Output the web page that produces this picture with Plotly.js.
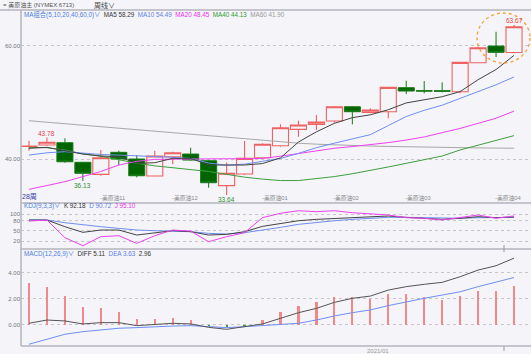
<!DOCTYPE html>
<html><head><meta charset="utf-8">
<script src="https://cdn.plot.ly/plotly-3.0.1.min.js"></script>
<style>html,body{margin:0;padding:0;background:#f4f4f9;}#chart{width:531px;height:354px;}</style>
</head><body><div id="chart"></div>
<script>
const weeks = [1,2,3,4,5,6,7,8,9,10,11,12,13,14,15,16,17,18,19,20,21,22,23,24,25,26,27,28];
const open  = [42.22,42.47,42.88,39.42,37.30,41.18,40.00,37.00,40.40,40.88,39.70,35.30,37.35,40.23,42.35,45.24,46.12,46.70,49.23,48.24,48.35,52.59,52.05,52.05,51.88,57.00,59.94,58.80];
const high  = [43.23,43.78,43.65,39.50,41.60,41.47,40.70,41.46,41.30,42.00,39.82,39.40,43.18,42.77,46.12,46.76,47.76,49.35,49.35,48.94,52.65,53.82,53.76,53.53,57.17,59.82,62.46,63.67];
const low   = [41.47,42.30,39.35,36.13,37.06,38.94,36.77,37.00,39.06,39.70,34.94,33.64,37.18,40.10,42.17,43.94,45.12,46.40,46.12,48.06,47.18,51.47,51.59,51.76,51.59,56.90,58.00,58.70];
const close = [42.28,42.95,39.52,37.48,40.23,40.00,37.05,40.53,41.10,39.82,35.82,37.48,40.12,42.60,45.52,46.00,46.53,49.23,48.35,48.65,52.65,52.00,52.00,51.98,57.06,59.65,58.83,63.35];

const ma5  = [41.89,42.06,41.46,40.88,40.53,40.41,39.24,39.35,40.12,40.12,38.94,38.94,38.94,39.20,40.20,43.00,44.80,46.30,47.30,47.80,48.70,49.90,50.50,51.00,51.90,54.00,55.80,58.29];
const ma10 = [40.70,41.10,41.30,41.00,40.80,40.70,40.60,40.40,40.30,40.10,39.30,38.90,39.10,39.60,40.10,41.00,42.00,42.80,43.60,44.30,45.90,47.50,48.60,49.50,50.70,51.90,53.10,54.49];
const ma20 = [34.65,35.30,36.00,36.90,37.80,38.94,39.60,39.94,40.00,40.05,40.05,40.05,40.05,40.10,40.50,41.00,41.50,41.90,42.20,42.50,42.90,43.35,43.90,44.65,45.40,46.30,47.20,48.45];
const ma40 = [42.06,42.00,41.60,40.90,40.50,39.85,39.25,38.80,38.50,38.20,37.80,37.30,36.80,36.45,36.20,36.20,36.50,36.90,37.40,37.94,38.60,39.24,39.90,40.53,41.60,42.47,43.35,44.13];
const ma60 = [46.76,46.50,46.22,45.95,45.68,45.40,45.13,44.86,44.60,44.33,44.06,43.80,43.53,43.27,43.00,42.80,42.62,42.48,42.38,42.30,42.22,42.15,42.10,42.05,42.00,41.96,41.93,41.90];

const kVals = [82.9,82.9,62.9,46.0,52.9,52.9,37.9,44.9,50.9,47.9,37.9,39.9,47.9,63.9,72.9,80.8,84.9,87.9,90.9,92.9,94.9,90.9,88.0,84.9,88.0,92.9,89.9,92.18];
const dVals = [82.9,82.9,74.9,67.9,62.9,57.9,52.9,50.9,49.9,47.9,42.9,40.9,44.9,52.0,60.9,69.9,75.9,80.8,84.9,88.0,90.9,90.9,89.9,88.0,88.0,89.9,89.9,90.72];
const jVals = [79.9,82.9,29.9,5.9,32.9,35.9,12.9,35.9,52.9,49.9,17.9,32.9,44.9,90.0,103.0,110.8,107.8,110.8,104.8,100.9,97.9,89.9,88.0,82.9,90.9,97.9,88.0,95.10];

const macdHist = [3.18,2.93,2.21,1.40,1.27,1.02,0.46,0.46,0.56,0.38,-0.08,-0.15,-0.05,0.38,1.02,1.48,1.73,2.11,2.11,1.98,2.34,2.34,2.11,1.91,2.24,2.60,2.60,2.96];
const dif = [0.13,0.38,0.31,0.08,0.18,0.18,-0.05,0.05,0.13,0.08,-0.18,-0.33,-0.13,0.08,0.51,0.94,1.27,1.73,2.04,2.21,2.67,2.93,3.11,3.26,3.69,4.20,4.53,5.11];
const dea = [-1.47,-1.07,-0.71,-0.51,-0.38,-0.25,-0.20,-0.13,-0.08,-0.05,-0.13,-0.20,-0.13,-0.05,0.00,0.13,0.38,0.69,0.94,1.15,1.48,1.78,2.04,2.29,2.54,2.93,3.26,3.63];

const monthLabels = ['美原油11','美原油12','美原油01','美原油02','美原油03','美原油04'];
const monthWeeks  = [5,9,14,18,22,27];
const highMarks = [2,28];   // weeks with high labels
const lowMarks  = [4,12];   // weeks with low labels

const BG = '#f4f4f9';
const FONT = 'Liberation Sans, Noto Sans CJK SC, sans-serif';
const W = 531, H = 354, ML = 21, MR = 2, MT = 10, MB = 8;
const PW = W - ML - MR, PH = H - MT - MB;
const px = v => (v - ML) / PW;
const py = v => (H - MB - v) / PH;

const traces = [];
traces.push({type:'candlestick', x:weeks, open:open, high:high, low:low, close:close,
  xaxis:'x', yaxis:'y', whiskerwidth:0, hoverinfo:'skip',
  increasing:{line:{color:'#ee6262', width:1.1}, fillcolor:BG},
  decreasing:{line:{color:'#167a16', width:1}, fillcolor:'#006400'}});
const maDefs = [[ma60,'#a8a8a8'],[ma40,'#3e9e3e'],[ma20,'#f040f0'],[ma10,'#6f8ff0'],[ma5,'#444444']];
maDefs.forEach(([arr,c]) => traces.push({type:'scatter', mode:'lines', x:weeks, y:arr, xaxis:'x', yaxis:'y', line:{color:c, width:1}, hoverinfo:'skip'}));

[[dVals,'#6f8ff0'],[kVals,'#444444'],[jVals,'#f040f0']].forEach(([arr,c]) =>
  traces.push({type:'scatter', mode:'lines', x:weeks, y:arr, xaxis:'x', yaxis:'y2', line:{color:c, width:1}, hoverinfo:'skip'}));

traces.push({type:'bar', x:weeks, y:macdHist, xaxis:'x', yaxis:'y3', width:0.12,
  marker:{color:macdHist.map(v => v >= 0 ? '#f08a8a' : '#3ea03e')}, hoverinfo:'skip'});
traces.push({type:'scatter', mode:'lines', x:weeks, y:dea, xaxis:'x', yaxis:'y3', line:{color:'#6f8ff0', width:1}, hoverinfo:'skip'});
traces.push({type:'scatter', mode:'lines', x:weeks, y:dif, xaxis:'x', yaxis:'y3', line:{color:'#555555', width:1}, hoverinfo:'skip'});

const ann = [];
function txt(x, y, text, color, size, extra) {
  ann.push(Object.assign({xref:'paper', yref:'paper', x:px(x), y:py(y), text:text, showarrow:false,
    xanchor:'left', yanchor:'middle', borderpad:0, font:{family:FONT, size:size||6.5, color:color}}, extra||{}));
}
const sp = '\u00a0\u00a0';
const span = (c, t) => '<span style="color:' + c + '">' + t + '</span>';
const row = items => items.map(([c,t]) => span(c,t)).join(sp);
const last = weeks.length - 1;
txt(2, 5, '= 美原油主 (NYMEX 6713)', '#555', 6);
txt(93, 5, '周线∨', '#444', 7);
txt(23, 15, row([['#4f7fe0','MA组合(5,10,20,40,60,0)∨'], ['#333','MA5 ' + ma5[last].toFixed(2)],
  ['#5f7fe8','MA10 ' + ma10[last].toFixed(2)], ['#ee30ee','MA20 ' + ma20[last].toFixed(2)],
  ['#309a30','MA40 ' + ma40[last].toFixed(2)], ['#999','MA60 ' + ma60[last].toFixed(2)]]), '#333', 6.3);
txt(23, 206, row([['#4f7fe0','KDJ(9,3,3)∨'], ['#333','K ' + kVals[last].toFixed(2)],
  ['#5f7fe8','D ' + dVals[last].toFixed(2)], ['#ee30ee','J ' + jVals[last].toFixed(2)]]), '#333', 6.3);
txt(23, 254, row([['#4f7fe0','MACD(12,26,9)∨'], ['#333','DIFF ' + dif[last].toFixed(2)],
  ['#5f7fe8','DEA ' + dea[last].toFixed(2)], ['#333', macdHist[last].toFixed(2)]]), '#333', 6.3);
txt(21, 197, '28周', '#3a3aa8', 7);
txt(378, 351, '2021/01', '#999', 6, {xanchor:'center'});
monthWeeks.forEach((w, i) => ann.push({xref:'x', yref:'paper', x:w, y:py(198), text:'-' + monthLabels[i], showarrow:false,
  xanchor:'left', yanchor:'middle', xshift:-2, borderpad:0, font:{family:FONT, size:5.8, color:'#8a8a8a'}}));
highMarks.forEach(w => ann.push({xref:'x', yref:'y', x:w, y:high[w-1], text:high[w-1].toFixed(2), showarrow:false,
  yanchor:'bottom', xanchor:'center', borderpad:0, font:{family:FONT, size:6.5, color:'#ee4444'}}));
lowMarks.forEach(w => ann.push({xref:'x', yref:'y', x:w, y:low[w-1], text:low[w-1].toFixed(2), showarrow:false,
  yanchor:'top', xanchor:'center', borderpad:0, font:{family:FONT, size:6.5, color:'#2e8e2e'}}));

const lineC = '#b4b4bc';
const shapes = [
  {type:'line', xref:'paper', yref:'paper', x0:px(0), x1:px(W), y0:py(10), y1:py(10), line:{color:lineC, width:1.5}},
  {type:'line', xref:'paper', yref:'paper', x0:px(21), x1:px(W), y0:py(203), y1:py(203), line:{color:lineC, width:1.5}},
  {type:'line', xref:'paper', yref:'paper', x0:px(21), x1:px(W), y0:py(249), y1:py(249), line:{color:lineC, width:1.5}},
  {type:'line', xref:'paper', yref:'paper', x0:px(21), x1:px(W), y0:py(346), y1:py(346), line:{color:lineC, width:1.5}},
  {type:'line', xref:'paper', yref:'paper', x0:px(21), x1:px(21), y0:py(10), y1:py(346), line:{color:lineC, width:1.5}},
  {type:'line', xref:'paper', yref:'paper', x0:px(504), x1:px(504), y0:py(245), y1:py(252), line:{color:'#999', width:1}},
  {type:'line', xref:'paper', yref:'paper', x0:px(504), x1:px(504), y0:py(346), y1:py(351), line:{color:'#999', width:1}},
  {type:'circle', xref:'paper', yref:'paper', x0:px(477), x1:px(530), y0:py(63), y1:py(13), line:{color:'#f5a030', width:1.3, dash:'dot'}}
];

const yBase = {showline:false, zeroline:false, showgrid:true, griddash:'dot', gridcolor:'#c6c6cc', gridwidth:1,
  ticks:'', tickfont:{family:FONT, size:6, color:'#777'}, fixedrange:true};
const layout = {
  width:W, height:H, margin:{l:ML, r:MR, t:MT, b:MB}, paper_bgcolor:BG, plot_bgcolor:BG,
  showlegend:false, boxgap:0.05, boxgroupgap:0.06, bargap:0,
  xaxis:{range:[weeks[0]-8/18, weeks[last]+15/18], showticklabels:false, showgrid:false, zeroline:false, showline:false, ticks:'', fixedrange:true, rangeslider:{visible:false}},
  yaxis:Object.assign({}, yBase, {domain:[py(203), 1], range:[32.24, 66.3], tickvals:[40,60], ticktext:['40.00','60.00']}),
  yaxis2:Object.assign({}, yBase, {domain:[py(249), py(203)], range:[-3.97, 133.9], tickvals:[20,50,80,100], ticktext:['20','50','80','100']}),
  yaxis3:Object.assign({}, yBase, {domain:[0, py(249)], range:[-1.606, 5.81], tickvals:[0,2,4], ticktext:['0.00','2.00','4.00']}),
  annotations:ann, shapes:shapes
};
Plotly.newPlot('chart', traces, layout, {staticPlot:true, displayModeBar:false});
</script></body></html>
